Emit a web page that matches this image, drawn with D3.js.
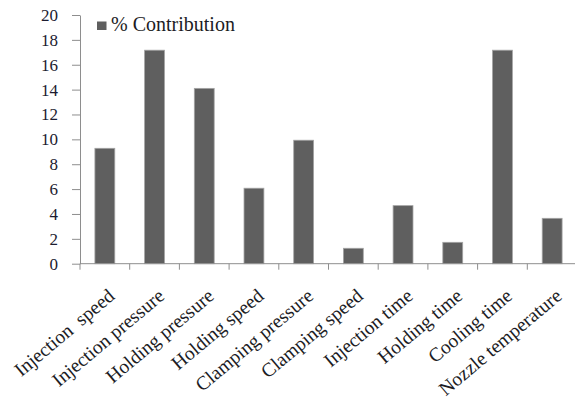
<!DOCTYPE html>
<html>
<head>
<meta charset="utf-8">
<script src="https://cdn.jsdelivr.net/npm/d3@7"></script>
<style>
  html, body { margin: 0; padding: 0; background: #fff; }
  svg { display: block; }
  svg text { font-family: "Liberation Serif", serif; fill: #1c1c24; white-space: pre; }
</style>
</head>
<body>
<svg id="chart" width="575" height="400"></svg>
<script>
// Process parameters and their percentage contribution
const categories = [
  "Injection  speed", "Injection pressure", "Holding pressure", "Holding speed",
  "Clamping pressure", "Clamping speed", "Injection time", "Holding time",
  "Cooling time", "Nozzle temperature"
];
const contribution = [9.28, 17.17, 14.1, 6.07, 9.93, 1.24, 4.67, 1.72, 17.17, 3.65];
const yTicks = [0, 2, 4, 6, 8, 10, 12, 14, 16, 18, 20];
const seriesName = "% Contribution";

const svg = d3.select("#chart");
const plotLeft = 80, plotRight = 577, plotTop = 15, plotBottom = 263.7;

const x = d3.scaleBand()
  .domain(categories)
  .range([plotLeft, plotRight])
  .paddingInner(0.6)
  .paddingOuter(0.3);

const y = d3.scaleLinear().domain([0, 20]).range([plotBottom, plotTop]);

const axisColor = "#8e8e8e";

// Y axis
const yAxis = svg.append("g")
  .attr("transform", `translate(${plotLeft},0)`)
  .call(d3.axisLeft(y).tickValues(yTicks).tickSizeInner(8).tickSizeOuter(0).tickPadding(14));
yAxis.attr("font-family", null).attr("font-size", null);
yAxis.select(".domain").attr("stroke", axisColor);
yAxis.selectAll(".tick line").attr("stroke", axisColor);
yAxis.selectAll(".tick text")
  .attr("font-size", 17)
  .style("font-family", "'Liberation Serif', serif")
  .style("fill", "#1c1c30");

// Bars
svg.append("g")
  .selectAll("rect")
  .data(categories)
  .join("rect")
  .attr("x", d => x(d))
  .attr("y", (d, i) => y(contribution[i]))
  .attr("width", x.bandwidth())
  .attr("height", (d, i) => y(0) - y(contribution[i]))
  .attr("fill", "#5f5f5f")
  .attr("stroke", "#a4a4a4")
  .attr("stroke-width", 0.8);

// X axis line with ticks between categories
const xAxis = svg.append("g");
xAxis.append("line")
  .attr("x1", plotLeft).attr("x2", plotRight)
  .attr("y1", plotBottom).attr("y2", plotBottom)
  .attr("stroke", axisColor);
const boundaries = d3.range(categories.length + 1).map(i => plotLeft + i * x.step());
xAxis.selectAll("line.tick")
  .data(boundaries)
  .join("line")
  .attr("class", "tick")
  .attr("x1", d => d).attr("x2", d => d)
  .attr("y1", plotBottom).attr("y2", plotBottom + 6)
  .attr("stroke", axisColor);

// Rotated category labels, anchored at the end of their baseline
xAxis.selectAll("text")
  .data(categories)
  .join("text")
  .attr("transform", d => `translate(${x(d) + x.bandwidth() / 2 + 11},298) rotate(-40)`)
  .attr("text-anchor", "end")
  .attr("font-size", 19.5)
  .text(d => d);

// Legend
const legend = svg.append("g");
legend.append("rect")
  .attr("x", 97).attr("y", 21.5)
  .attr("width", 9.5).attr("height", 8.5)
  .attr("fill", "#5f5f5f");
legend.append("text")
  .attr("x", 111).attr("y", 31)
  .attr("font-size", 20)
  .text(seriesName);
</script>
</body>
</html>
